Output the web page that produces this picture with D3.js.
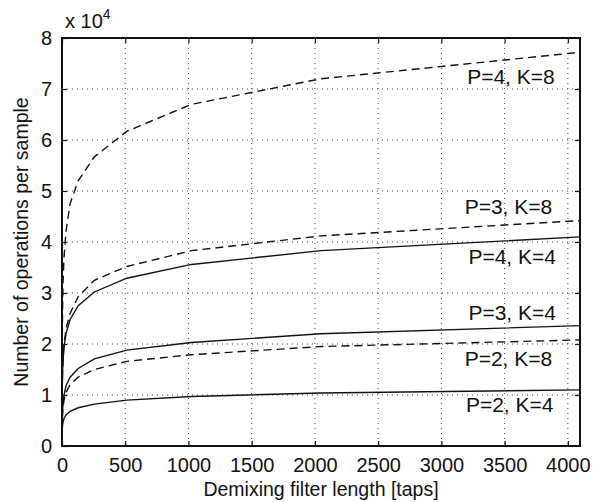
<!DOCTYPE html>
<html>
<head>
<meta charset="utf-8">
<script src="https://cdn.jsdelivr.net/npm/d3@7"></script>
<style>
  body { margin: 0; background: #fff; }
  text { font-family: "Liberation Sans", Arial, sans-serif; fill: #111; }
</style>
</head>
<body>
<div id="chart"></div>
<script>
// data: filter length (taps) and operations per sample (x 10^4)
var filterLengths = [1, 2, 4, 8, 16, 32, 64, 128, 256, 512, 1024, 2048, 4096];
var opsP4K8 = [1.4, 2.0, 2.6, 3.2, 3.7, 4.22, 4.75, 5.2, 5.67, 6.17, 6.7, 7.2, 7.72];
var opsP3K8 = [0.8, 1.1, 1.4, 1.7, 2.0, 2.3, 2.6, 2.93, 3.25, 3.52, 3.83, 4.12, 4.42];
var opsP4K4 = [0.86, 1.13, 1.4, 1.67, 1.94, 2.21, 2.48, 2.75, 3.02, 3.29, 3.56, 3.83, 4.1];
var opsP3K4 = [0.33, 0.5, 0.66, 0.83, 1.0, 1.18, 1.35, 1.52, 1.71, 1.88, 2.03, 2.2, 2.36];
var opsP2K8 = [0.3, 0.45, 0.6, 0.75, 0.9, 1.05, 1.2, 1.35, 1.5, 1.66, 1.79, 1.95, 2.08];
var opsP2K4 = [0.26, 0.33, 0.4, 0.47, 0.54, 0.61, 0.68, 0.75, 0.82, 0.9, 0.97, 1.04, 1.1];

var seriesNames = ["P=4, K=8", "P=3, K=8", "P=4, K=4", "P=3, K=4", "P=2, K=8", "P=2, K=4"];
var seriesValues = [opsP4K8, opsP3K8, opsP4K4, opsP3K4, opsP2K8, opsP2K4];
var seriesDashed = [true, true, false, false, true, false];
// label anchor (taps, ops) for each curve label
var labelX = [3550, 3530, 3560, 3560, 3530, 3540];
var labelY = [7.1, 4.55, 3.57, 2.48, 1.56, 0.66];

var xTicks = [0, 500, 1000, 1500, 2000, 2500, 3000, 3500, 4000];
var yTicks = [0, 1, 2, 3, 4, 5, 6, 7, 8];

// svg container
var svgWidth = 594;
var svgHeight = 502;

var margin = { top: 38, right: 14, bottom: 56, left: 62 };
var width = svgWidth - margin.left - margin.right;
var height = svgHeight - margin.top - margin.bottom;

var svg = d3.select("#chart")
  .append("svg")
  .attr("width", svgWidth)
  .attr("height", svgHeight);

var chartGroup = svg.append("g")
  .attr("transform", `translate(${margin.left}, ${margin.top})`);

// scales
var xScale = d3.scaleLinear().domain([0, 4096]).range([0, width]);
var yScale = d3.scaleLinear().domain([0, 8]).range([height, 0]);

// dotted grid
chartGroup.append("g")
  .selectAll("line")
  .data(xTicks.filter(d => d > 0))
  .enter()
  .append("line")
  .attr("x1", d => xScale(d)).attr("x2", d => xScale(d))
  .attr("y1", 0).attr("y2", height)
  .attr("stroke", "#444")
  .attr("stroke-width", 1)
  .attr("stroke-dasharray", "1,4");

chartGroup.append("g")
  .selectAll("line")
  .data(yTicks.filter(d => d > 0 && d < 8))
  .enter()
  .append("line")
  .attr("x1", 0).attr("x2", width)
  .attr("y1", d => yScale(d)).attr("y2", d => yScale(d))
  .attr("stroke", "#444")
  .attr("stroke-width", 1)
  .attr("stroke-dasharray", "1,4");

// axes with inward ticks
var bottomAxis = d3.axisBottom(xScale).tickValues(xTicks).tickFormat(d3.format("d"))
  .tickSizeInner(-5).tickSizeOuter(0).tickPadding(12);
var leftAxis = d3.axisLeft(yScale).tickValues(yTicks).tickFormat(d3.format("d"))
  .tickSizeInner(-5).tickSizeOuter(0).tickPadding(10);
var topAxis = d3.axisTop(xScale).tickValues(xTicks).tickSizeInner(-5).tickSizeOuter(0).tickFormat("");
var rightAxis = d3.axisRight(yScale).tickValues(yTicks).tickSizeInner(-5).tickSizeOuter(0).tickFormat("");

var xAxis = chartGroup.append("g")
  .attr("transform", `translate(0, ${height})`)
  .call(bottomAxis);
var yAxis = chartGroup.append("g").call(leftAxis);
var tAxis = chartGroup.append("g").call(topAxis);
var rAxis = chartGroup.append("g")
  .attr("transform", `translate(${width}, 0)`)
  .call(rightAxis);

[xAxis, yAxis, tAxis, rAxis].forEach(function(ax) {
  ax.select(".domain").remove();
  ax.selectAll(".tick line").attr("stroke", "#111").attr("stroke-width", 1.2);
  ax.selectAll(".tick text").style("font-size", "20px").attr("fill", "#111");
});

// frame
chartGroup.append("rect")
  .attr("x", 0).attr("y", 0)
  .attr("width", width).attr("height", height)
  .attr("fill", "none")
  .attr("stroke", "#111")
  .attr("stroke-width", 2);

// curves
var line = d3.line()
  .x((d, i) => xScale(filterLengths[i]))
  .y(d => yScale(d));

seriesValues.forEach(function(vals, i) {
  chartGroup.append("path")
    .datum(vals)
    .attr("d", line)
    .attr("fill", "none")
    .attr("stroke", "#111")
    .attr("stroke-width", 1.4)
    .attr("stroke-dasharray", seriesDashed[i] ? "8,5" : null);

  chartGroup.append("text")
    .attr("x", xScale(labelX[i]))
    .attr("y", yScale(labelY[i]))
    .attr("text-anchor", "middle")
    .style("font-size", "21px")
    .text(seriesNames[i]);
});

// exponent label
var expLabel = svg.append("text")
  .attr("x", 65)
  .attr("y", 28)
  .style("font-size", "20px");
expLabel.append("tspan").text("x 10");
expLabel.append("tspan").attr("dy", -9).style("font-size", "14px").text("4");

// axis titles
svg.append("text")
  .attr("x", margin.left + width / 2)
  .attr("y", 496)
  .attr("text-anchor", "middle")
  .style("font-size", "19.5px")
  .text("Demixing filter length [taps]");

svg.append("text")
  .attr("transform", "rotate(-90)")
  .attr("x", -(margin.top + height / 2))
  .attr("y", 28)
  .attr("text-anchor", "middle")
  .style("font-size", "19.5px")
  .text("Number of operations per sample");
</script>
</body>
</html>
